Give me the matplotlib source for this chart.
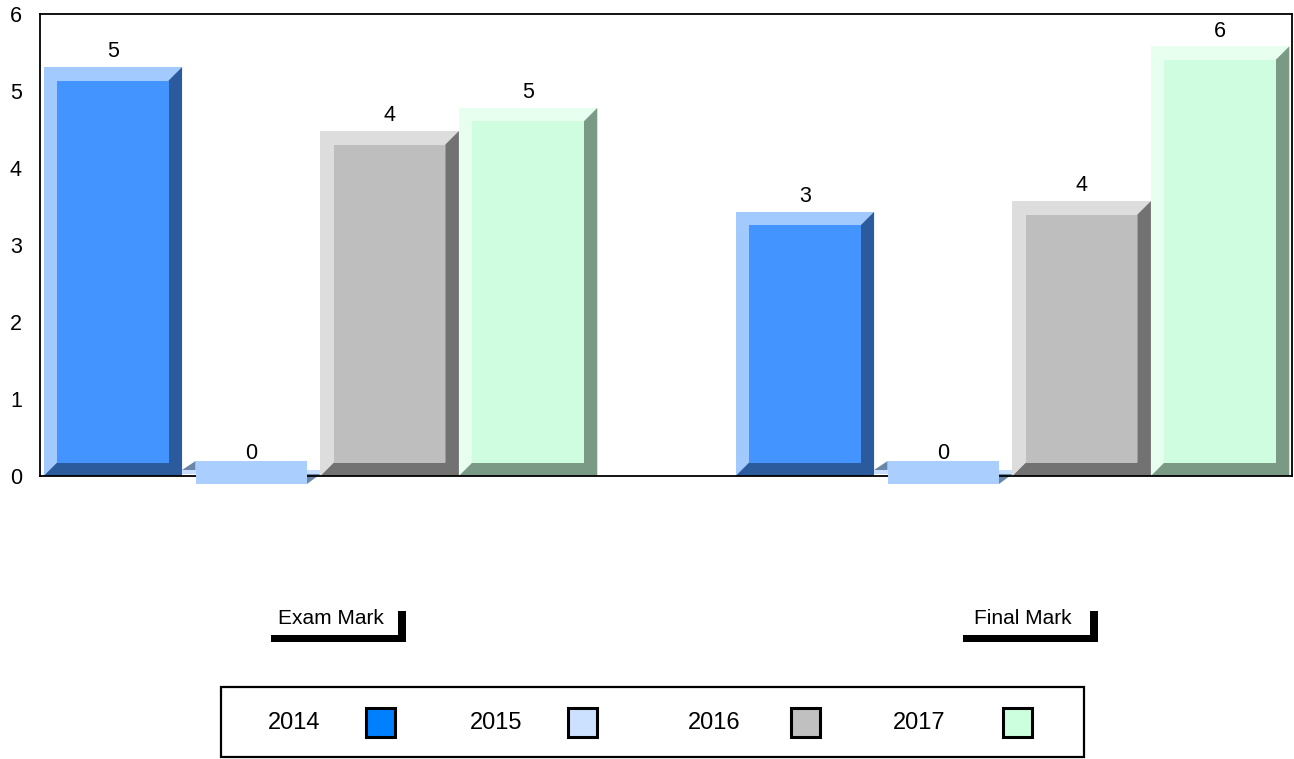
import numpy as np
import matplotlib
matplotlib.use("Agg")
import matplotlib.pyplot as plt
from matplotlib.patches import Polygon, Rectangle
from matplotlib.transforms import blended_transform_factory

plt.rcParams['font.family'] = ['Liberation Sans', 'DejaVu Sans']

# data
categories = ['Exam Mark', 'Final Mark']
years = ['2014', '2015', '2016', '2017']
values = {
    '2014': [5.31, 3.43],
    '2015': [0.0, 0.0],
    '2016': [4.48, 3.57],
    '2017': [4.78, 5.58],
}
# face, light bevel, dark bevel, legend swatch
face_cols = ['#4494FF', '#AACFFF', '#BEBEBE', '#CEFDE0']
light_cols = ['#A2CAFF', '#C8DEFF', '#DDDDDD', '#E6FFEF']
dark_cols = ['#2B5B9C', '#6A86A8', '#727272', '#7B9A86']
legend_cols = ['#0080FF', '#CCE0FF', '#C0C0C0', '#CCFFDD']

W, H = 1294, 759
fig = plt.figure(figsize=(W / 100, H / 100), dpi=100)
ax = fig.add_axes([40 / W, 1 - 476 / H, (1292 - 40) / W, (476 - 14) / H])

ax.set_xlim(-0.4053, 1.4039)
ax.set_ylim(0, 6)
ax.set_yticks(range(7))
ax.set_xticks([])
ax.tick_params(axis='y', length=0, pad=13, labelsize=15.5)
for s in ax.spines.values():
    s.set_linewidth(1.3)
    s.set_color('black')

bw = 0.2
bx = 0.0195   # bevel in x (data units)
by = 0.175    # bevel in y
xc = np.arange(len(categories))

for i, yr in enumerate(years):
    for j, v in enumerate(values[yr]):
        x0 = xc[j] + (i - 2) * bw
        x1 = x0 + bw
        if v > 0:
            ax.add_patch(Rectangle((x0, 0), bw, v, facecolor=light_cols[i],
                                   edgecolor='none', clip_on=False, zorder=2))
            ax.add_patch(Polygon([(x0, 0), (x0 + bx, by), (x1 - bx, by), (x1 - bx, v - by),
                                  (x1, v), (x1, 0)], closed=True, facecolor=dark_cols[i],
                                 edgecolor='none', clip_on=False, zorder=2))
            ax.add_patch(Rectangle((x0 + bx, by), bw - 2 * bx, v - 2 * by,
                                   facecolor=face_cols[i], edgecolor='none',
                                   clip_on=False, zorder=3))
        else:
            # flat bevelled tile for a zero value
            ax.add_patch(Rectangle((x0, 0.026), bw, 0.052, facecolor=light_cols[i],
                                   edgecolor='none', clip_on=False, zorder=2))
            ax.add_patch(Polygon([(x0, 0.078), (x0 + bx, 0.195), (x0 + bx, 0.078)],
                                 closed=True, facecolor=dark_cols[i], edgecolor='none',
                                 clip_on=False, zorder=2))
            ax.add_patch(Polygon([(x1 - bx, -0.104), (x1, 0.026), (x1 - bx, 0.026)],
                                 closed=True, facecolor=dark_cols[i], edgecolor='none',
                                 clip_on=False, zorder=2))
            ax.add_patch(Rectangle((x0 + bx, -0.104), bw - 2 * bx, 0.299,
                                   facecolor=face_cols[i], edgecolor='none',
                                   clip_on=False, zorder=3))
        ax.annotate(str(int(round(v))), (x0 + bw / 2, max(v, 0.09)), xytext=(0, 11),
                    textcoords='offset points', ha='center', va='center',
                    fontsize=15.5, zorder=5, annotation_clip=False)

# category labels with bracket underline
tr = blended_transform_factory(ax.transData, fig.transFigure)
for j, cat in enumerate(categories):
    c = xc[j]
    ax.text(c + 0.015, 1 - 618 / H, cat, transform=tr, ha='center', va='center',
            fontsize=15, clip_on=False)
    ax.add_patch(Rectangle((c - 0.071, 1 - 642 / H), 0.195, 7 / H, transform=tr,
                           facecolor='black', edgecolor='none', clip_on=False))
    ax.add_patch(Rectangle((c + 0.124 - 8 / 692, 1 - 642 / H), 8 / 692, 31 / H,
                           transform=tr, facecolor='black', edgecolor='none', clip_on=False))

# legend box drawn by hand
fig.add_artist(Rectangle((221 / W, 1 - 757 / H), (1084 - 221) / W, 70 / H,
                         transform=fig.transFigure, facecolor='white',
                         edgecolor='black', linewidth=1.6))
text_x = [268, 470, 688, 893]
box_x = [366, 568, 791, 1003]
for i, yr in enumerate(years):
    fig.text(text_x[i] / W, 1 - 723 / H, yr, ha='left', va='center', fontsize=17)
    fig.add_artist(Rectangle((box_x[i] / W, 1 - 737 / H), 29 / W, 29 / H,
                             transform=fig.transFigure, facecolor=legend_cols[i],
                             edgecolor='black', linewidth=2.2))

fig.savefig('out.png', dpi=100)
